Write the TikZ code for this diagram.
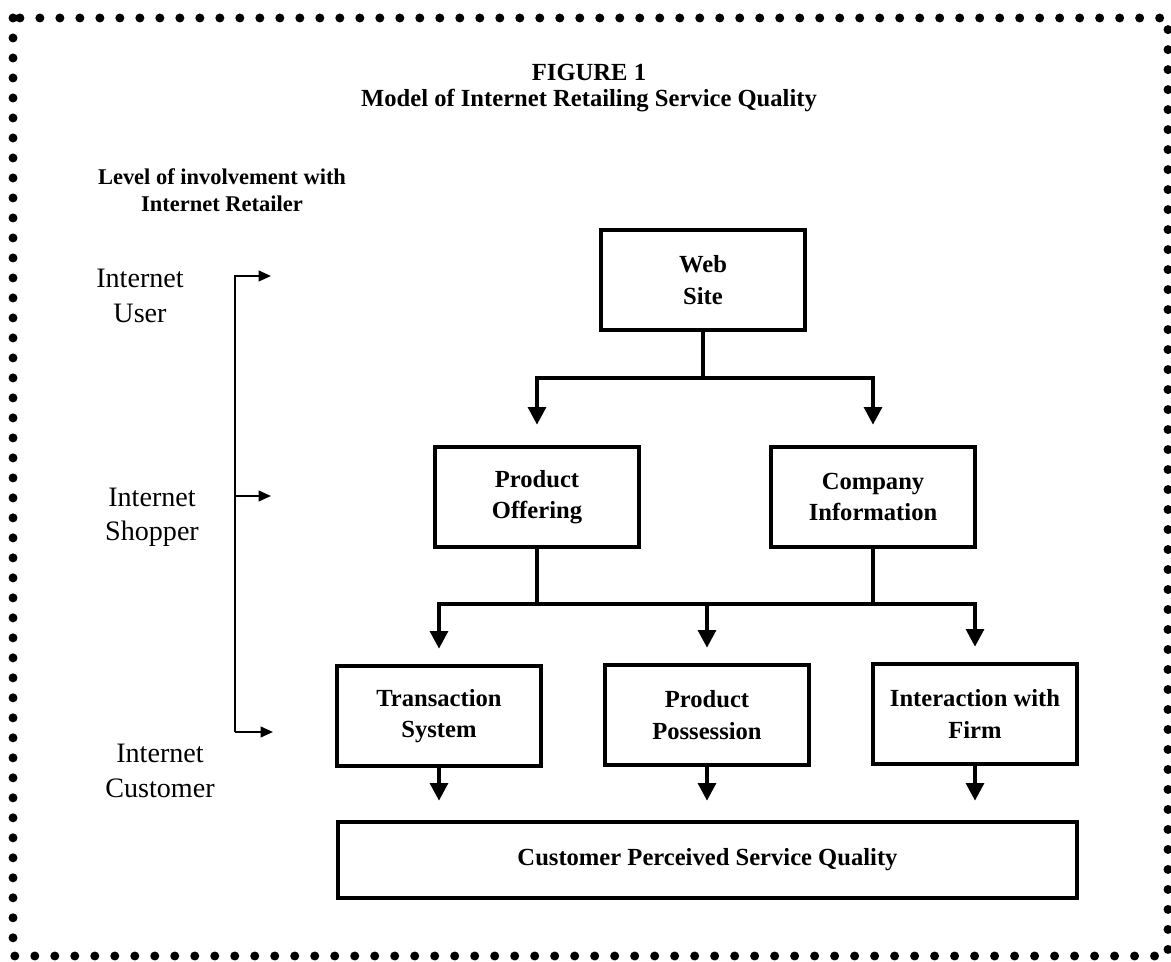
\documentclass[tikz,border=0pt]{standalone}
\usepackage{fontspec}
\setmainfont{Liberation Serif}
\usetikzlibrary{arrows.meta}

\begin{document}
\begin{tikzpicture}
[
	x=0.02cm, y=-0.02cm,
	block/.style={draw,line width=2.6pt,minimum width=4.08cm,minimum height=2cm,inner sep=0pt,align=center,font=\fontsize{14}{18}\selectfont\bfseries},
	lbl/.style={align=center,font=\fontsize{16}{19.5}\selectfont},
	lvllbl/.style={align=center,font=\fontsize{12.8}{15.5}\selectfont\bfseries},
	conn/.style={line width=2.2pt},
	arr/.style={conn,-{Triangle[length=10pt,width=10pt]}},
	brk/.style={line width=1.2pt,-{Triangle[length=7pt,width=6pt]}},
	dots/.style={line width=0.18cm,line cap=round,dash pattern=on 0pt off 0.4cm}
]

	\useasboundingbox (0,0) rectangle (1171,962);

	% border
	\draw[dots] (13,18) rectangle (1168,956);

	% titles
	\node[font=\fontsize{14}{17}\selectfont\bfseries] (fig) at (589,72) {FIGURE 1};
	\node[font=\fontsize{14}{17}\selectfont\bfseries] (mtitle) at (589,101) {Model of Internet Retailing Service Quality};

	% levels of involvement
	\node[lvllbl] (lvl) at (222,190) {Level of involvement with\\Internet Retailer};
	\node[lbl] (iuser) at (140,296) {Internet\\User};
	\node[lbl] (ishop) at (152,517) {Internet\\Shopper};
	\node[lbl] (icust) at (160,771) {Internet\\Customer};

	\coordinate (brtop) at (235,276);
	\coordinate (brmid) at (235,496);
	\coordinate (brbot) at (235,732);
	\draw[brk] (brbot) -- (brtop) -- ++(36,0);
	\draw[brk] (brmid) -- ++(36,0);
	\draw[brk] (brbot) -- ++(38,0);

	% model boxes
	\node[block] (web) at (703,280) {Web\\Site};
	\node[block] (po) at (537,497) {Product\\Offering};
	\node[block] (ci) at (873,497) {Company\\Information};
	\node[block] (ts) at (439,716) {Transaction\\System};
	\node[block] (pp) at (707,715) {Product\\Possession};
	\node[block] (ifm) at (975,714) {Interaction with\\Firm};
	\node[block,minimum width=14.78cm,minimum height=1.52cm] (cpsq) at (707.5,860) {Customer Perceived Service Quality};

	% connectors
	\coordinate (bus1) at (0,378);
	\coordinate (bus2) at (0,604);
	\draw[arr,shorten >=0.4cm] (web.south) |- (po.north |- bus1) -- (po.north);
	\draw[arr,shorten >=0.4cm] (web.south) |- (ci.north |- bus1) -- (ci.north);
	\draw[arr,shorten >=0.3cm] (po.south) |- (ts.north |- bus2) -- (ts.north);
	\draw[arr,shorten >=0.3cm] (ci.south) |- (ifm.north |- bus2) -- (ifm.north);
	\draw[conn] (po.south |- bus2) -- (ci.south |- bus2);
	\draw[arr,shorten >=0.3cm] (pp.north |- bus2) -- (pp.north);
	\draw[arr,shorten >=0.38cm] (ts.south) -- (ts.south |- cpsq.north);
	\draw[arr,shorten >=0.38cm] (pp.south) -- (pp.south |- cpsq.north);
	\draw[arr,shorten >=0.38cm] (ifm.south) -- (ifm.south |- cpsq.north);

\end{tikzpicture}
\end{document}
